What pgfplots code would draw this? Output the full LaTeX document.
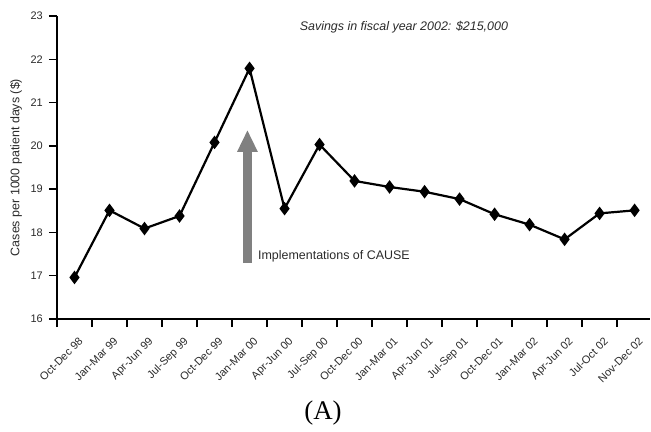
\documentclass[border=0pt]{standalone}
\usepackage{pgfplots}
\pgfplotsset{compat=1.18}
\usepackage{fontspec}
\setmainfont{Liberation Sans}
\newfontfamily\serifA{Liberation Serif}
\usetikzlibrary{arrows.meta}
\definecolor{txt}{HTML}{2a2a2a}
\definecolor{arr}{HTML}{808080}
\begin{document}
\begin{tikzpicture}
\begin{axis}[
  at={(0,0)}, anchor=south west,
  scale only axis, width=593bp, height=303bp,
  xmin=-0.5, xmax=16.44, ymin=16, ymax=23,
  axis lines*=left,
  axis line style={line width=1.4bp, black},
  tick align=outside, major tick length=0bp, minor tick length=8bp,
  tick style={line width=1.4bp, black},
  xtick={0.1,1.1,...,16.1},
  minor xtick={-0.5,0.5,...,15.5},
  xticklabels={Oct-Dec 98,Jan-Mar 99,Apr-Jun 99,Jul-Sep 99,Oct-Dec 99,Jan-Mar 00,Apr-Jun 00,Jul-Sep 00,Oct-Dec 00,Jan-Mar 01,Apr-Jun 01,Jul-Sep 01,Oct-Dec 01,Jan-Mar 02,Apr-Jun 02,Jul-Oct 02,Nov-Dec 02},
  xticklabel shift=16bp,
  xticklabel style={rotate=45, anchor=north east, inner sep=1bp, font=\fontsize{11}{13}\selectfont, text=txt},
  ytick={16,...,23},
  minor ytick={16,...,23},
  yticklabel shift=13bp,
  yticklabel style={font=\fontsize{11}{13}\selectfont, text=txt, inner sep=1bp},
  /pgf/number format/assume math mode=true,
  clip=false,
]
\addplot[black, line width=2.2bp, mark=diamond*, mark size=5bp] coordinates {
(0,16.96) (1,18.51) (2,18.09) (3,18.38) (4,20.08) (5,21.79) (6,18.55) (7,20.03) (8,19.19) (9,19.05) (10,18.94) (11,18.77) (12,18.42) (13,18.18) (14,17.84) (15,18.44) (16,18.51)
};
\draw[line width=9bp, arr, -{Triangle[width=19bp,length=22bp]}] (axis cs:4.94,17.29) -- (axis cs:4.94,20.37);
\node[anchor=west, inner sep=0pt, text=txt, font=\fontsize{12.5}{14}\selectfont] at (axis cs:5.24,17.44) {Implementations of CAUSE};
\node[inner sep=0pt, text=txt, font=\fontsize{12.5}{14}\selectfont\itshape] at (axis cs:9.41,22.75) {Savings in fiscal year 2002: \$215,000};
\end{axis}
\node[rotate=90, text=txt, font=\fontsize{12.5}{14}\selectfont] at (-41bp,151.5bp) {Cases per 1000 patient days (\$)};
\node[font=\serifA\fontsize{27}{30}\selectfont] at (266bp,-94bp) {(A)};
\useasboundingbox (-57bp,-113bp) rectangle (594bp,319bp);
\end{tikzpicture}
\end{document}
